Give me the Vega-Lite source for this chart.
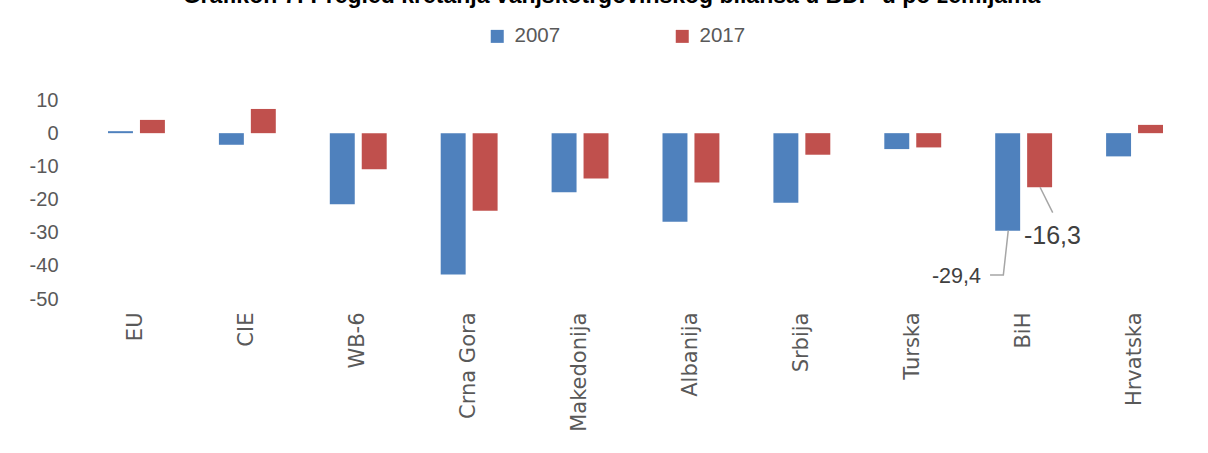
{
  "$schema": "https://vega.github.io/schema/vega-lite/v6.json",
  "width": 1109,
  "height": 199,
  "autosize": {"type": "none"},
  "padding": {"left": 81, "top": 100, "right": 18, "bottom": 154},
  "background": "white",
  "title": {
    "text": "Grafikon 7: Pregled kretanja vanjskotrgovinskog bilansa u BDP-u po zemljama",
    "fontSize": 23,
    "fontWeight": "bold",
    "font": "Liberation Sans",
    "color": "#000000",
    "anchor": "middle",
    "frame": "group",
    "baseline": "alphabetic",
    "offset": 0,
    "dx": -24
  },
  "datasets": {
    "bars": [
      {"zemlja": "EU", "godina": "2007", "vrijednost": 0.6},
      {"zemlja": "EU", "godina": "2017", "vrijednost": 4.0},
      {"zemlja": "CIE", "godina": "2007", "vrijednost": -3.5},
      {"zemlja": "CIE", "godina": "2017", "vrijednost": 7.3},
      {"zemlja": "WB-6", "godina": "2007", "vrijednost": -21.4},
      {"zemlja": "WB-6", "godina": "2017", "vrijednost": -10.9},
      {"zemlja": "Crna Gora", "godina": "2007", "vrijednost": -42.6},
      {"zemlja": "Crna Gora", "godina": "2017", "vrijednost": -23.4},
      {"zemlja": "Makedonija", "godina": "2007", "vrijednost": -17.8},
      {"zemlja": "Makedonija", "godina": "2017", "vrijednost": -13.7},
      {"zemlja": "Albanija", "godina": "2007", "vrijednost": -26.7},
      {"zemlja": "Albanija", "godina": "2017", "vrijednost": -14.9},
      {"zemlja": "Srbija", "godina": "2007", "vrijednost": -21.0},
      {"zemlja": "Srbija", "godina": "2017", "vrijednost": -6.5},
      {"zemlja": "Turska", "godina": "2007", "vrijednost": -4.8},
      {"zemlja": "Turska", "godina": "2017", "vrijednost": -4.3},
      {"zemlja": "BiH", "godina": "2007", "vrijednost": -29.4},
      {"zemlja": "BiH", "godina": "2017", "vrijednost": -16.3},
      {"zemlja": "Hrvatska", "godina": "2007", "vrijednost": -7.0},
      {"zemlja": "Hrvatska", "godina": "2017", "vrijednost": 2.5}
    ],
    "leaders": [
      {"k": "a", "o": 1, "u": 8.361, "v": -29.4},
      {"k": "a", "o": 2, "u": 8.317, "v": -42.75},
      {"k": "a", "o": 3, "u": 8.197, "v": -42.75},
      {"k": "b", "o": 1, "u": 8.648, "v": -16.3},
      {"k": "b", "o": 2, "u": 8.762, "v": -23.97}
    ],
    "labels": [
      {"label": "-29,4", "u": 8.115, "v": -45.08},
      {"label": "-16,3", "u": 8.503, "v": -33.4}
    ]
  },
  "layer": [
    {
      "data": {"name": "bars"},
      "mark": {"type": "bar"},
      "encoding": {
        "x": {
          "field": "zemlja",
          "type": "nominal",
          "sort": null,
          "scale": {"paddingInner": 0.487, "paddingOuter": 0.2435},
          "axis": {
            "title": null,
            "labelAngle": -90,
            "labelFont": "DejaVu Sans",
            "labelFontSize": 21,
            "labelColor": "#595959",
            "labelPadding": 13,
            "domain": false,
            "ticks": false,
            "grid": false
          }
        },
        "xOffset": {
          "field": "godina",
          "type": "nominal",
          "scale": {"paddingInner": 0.219, "paddingOuter": 0}
        },
        "y": {
          "field": "vrijednost",
          "type": "quantitative",
          "scale": {"domain": [-50, 10], "nice": false, "zero": false},
          "axis": {
            "title": null,
            "values": [-50, -40, -30, -20, -10, 0, 10],
            "labelExpr": "'' + datum.value",
            "labelOverlap": false,
            "labelBound": false,
            "labelFont": "Liberation Sans",
            "labelFontSize": 20,
            "labelColor": "#595959",
            "labelPadding": 23,
            "domain": false,
            "ticks": false,
            "grid": false
          }
        },
        "color": {
          "field": "godina",
          "type": "nominal",
          "scale": {"domain": ["2007", "2017"], "range": ["#4F81BD", "#C0504D"]},
          "legend": {
            "title": null,
            "orient": "none",
            "legendX": 406,
            "legendY": -74,
            "direction": "horizontal",
            "symbolType": "square",
            "symbolSize": 169,
            "symbolStrokeWidth": 0,
            "labelFont": "Liberation Sans",
            "labelFontSize": 20.5,
            "labelColor": "#595959",
            "labelOffset": 7,
            "columnPadding": 111,
            "padding": 0
          }
        }
      }
    },
    {
      "mark": {"type": "rule", "color": "#D9D9D9", "strokeWidth": 2},
      "encoding": {
        "y": {"datum": 0, "type": "quantitative", "scale": {"domain": [-50, 10], "nice": false, "zero": false}}
      }
    },
    {
      "data": {"name": "leaders"},
      "mark": {"type": "line", "color": "#A6A6A6", "strokeWidth": 1.5},
      "encoding": {
        "x": {"field": "u", "type": "quantitative", "scale": {"domain": [0, 10], "nice": false, "zero": false}, "axis": null},
        "y": {"field": "v", "type": "quantitative", "scale": {"domain": [-50, 10], "nice": false, "zero": false}},
        "detail": {"field": "k"},
        "order": {"field": "o"}
      }
    },
    {
      "data": {"name": "labels"},
      "transform": [{"filter": "datum.label === '-29,4'"}],
      "mark": {"type": "text", "align": "right", "baseline": "alphabetic", "font": "Liberation Sans", "fontSize": 21.5, "color": "#404040"},
      "encoding": {
        "x": {"field": "u", "type": "quantitative", "scale": {"domain": [0, 10], "nice": false, "zero": false}, "axis": null},
        "y": {"field": "v", "type": "quantitative", "scale": {"domain": [-50, 10], "nice": false, "zero": false}},
        "text": {"field": "label"}
      }
    },
    {
      "data": {"name": "labels"},
      "transform": [{"filter": "datum.label === '-16,3'"}],
      "mark": {"type": "text", "align": "left", "baseline": "alphabetic", "font": "Liberation Sans", "fontSize": 25, "color": "#404040"},
      "encoding": {
        "x": {"field": "u", "type": "quantitative", "scale": {"domain": [0, 10], "nice": false, "zero": false}, "axis": null},
        "y": {"field": "v", "type": "quantitative", "scale": {"domain": [-50, 10], "nice": false, "zero": false}},
        "text": {"field": "label"}
      }
    }
  ],
  "resolve": {"scale": {"x": "independent"}, "axis": {"x": "independent"}},
  "config": {
    "view": {"stroke": null},
    "font": "Liberation Sans",
    "axisY": {"labelOverlap": false, "tickCount": 7}
  }
}
